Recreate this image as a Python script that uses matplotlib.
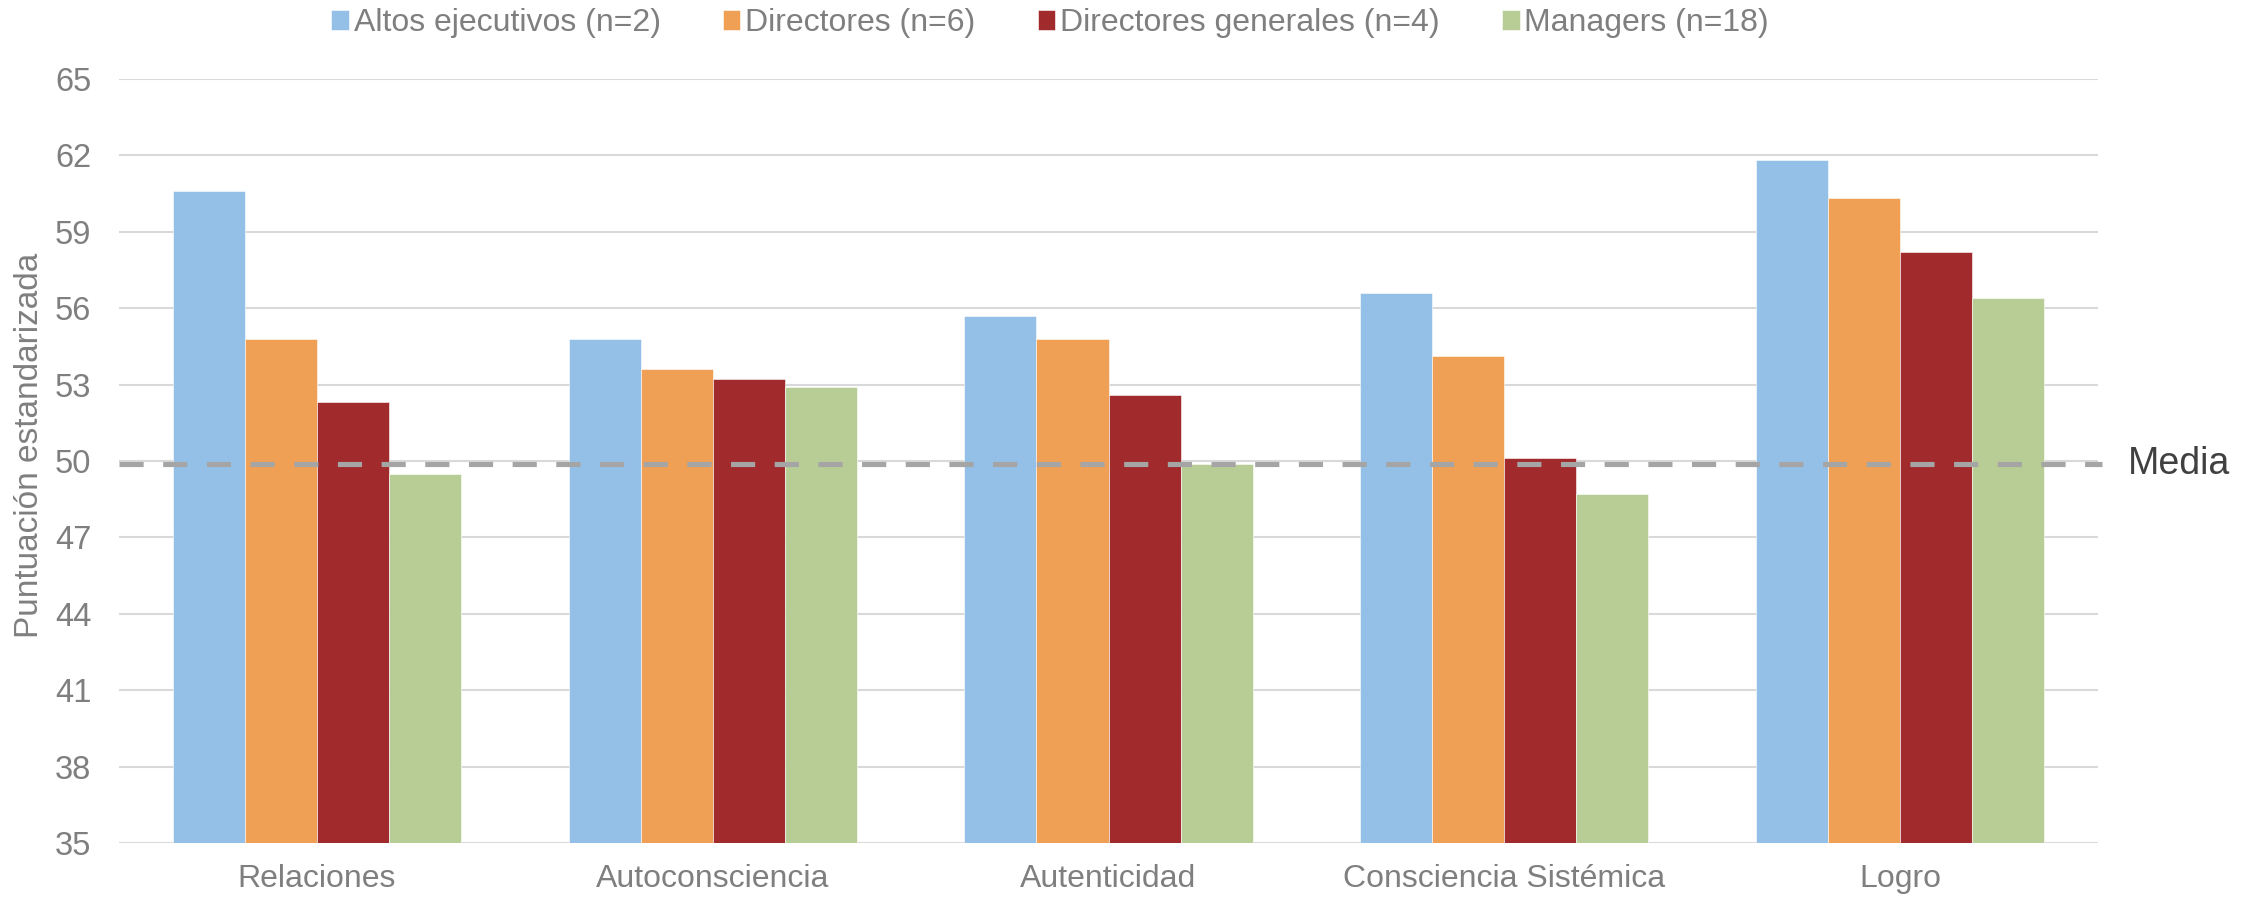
import matplotlib
matplotlib.use("Agg")
import matplotlib.pyplot as plt
import numpy as np

plt.rcParams['font.family'] = ['Liberation Sans', 'DejaVu Sans']

categorias = ['Relaciones', 'Autoconsciencia', 'Autenticidad', 'Consciencia Sistémica', 'Logro']
grupos = ['Altos ejecutivos (n=2)', 'Directores (n=6)', 'Directores generales (n=4)', 'Managers (n=18)']
altos_ejecutivos = [60.6, 54.8, 55.7, 56.6, 61.8]
directores = [54.8, 53.6, 54.8, 54.1, 60.3]
directores_generales = [52.3, 53.2, 52.6, 50.1, 58.2]
managers = [49.5, 52.9, 49.9, 48.7, 56.4]
media = 49.9
colores = ['#94C0E8', '#F0A055', '#A02A2C', '#B7CD95']

gris = '#7F7F7F'

fig = plt.figure(figsize=(22.51, 9), dpi=100)
ax = fig.add_axes([0.0529, 0.063, 0.8791, 0.8496])

x = np.arange(len(categorias))
ancho = 0.182
series = [altos_ejecutivos, directores, directores_generales, managers]
for i, (vals, col, nombre) in enumerate(zip(series, colores, grupos)):
    ax.bar(x + (i - 1.5) * ancho, vals, width=ancho, color=col, label=nombre,
           edgecolor='white', linewidth=0.4, zorder=3)

# linea de la media
ax.axhline(media, xmin=0, xmax=1.002, color='#A5A5A5', linewidth=3.7,
           dashes=(4.7, 3.8), solid_capstyle='butt', dash_capstyle='butt',
           clip_on=False, zorder=4)
ax.text(1.015, media, 'Media', transform=ax.get_yaxis_transform(),
        ha='left', va='center', fontsize=27, color='#404040')

ax.set_ylim(35, 65)
ax.set_xlim(-0.5, len(categorias) - 0.5)
ax.set_yticks(np.arange(35, 66, 3))
ax.set_xticks(x)
ax.set_xticklabels(categorias)
ax.grid(axis='y', color='#D9D9D9', linewidth=1.5, zorder=0)
ax.set_axisbelow(True)
for s in ax.spines.values():
    s.set_visible(False)
ax.tick_params(axis='y', length=0, pad=20, labelsize=23.5, labelcolor=gris)
ax.tick_params(axis='x', length=0, pad=15, labelsize=23, labelcolor=gris)

ax.set_ylabel('Puntuación estandarizada', fontsize=24, color=gris, va='center')
ax.yaxis.set_label_coords(-0.0455, 0.521)

fig.legend(loc='center', bbox_to_anchor=(0.4665, 0.974), ncol=4, frameon=False,
           fontsize=23, labelcolor=gris, handlelength=0.55, handleheight=0.55,
           handletextpad=0.15, columnspacing=1.95, borderaxespad=0)

fig.savefig('out.png', dpi=100)
